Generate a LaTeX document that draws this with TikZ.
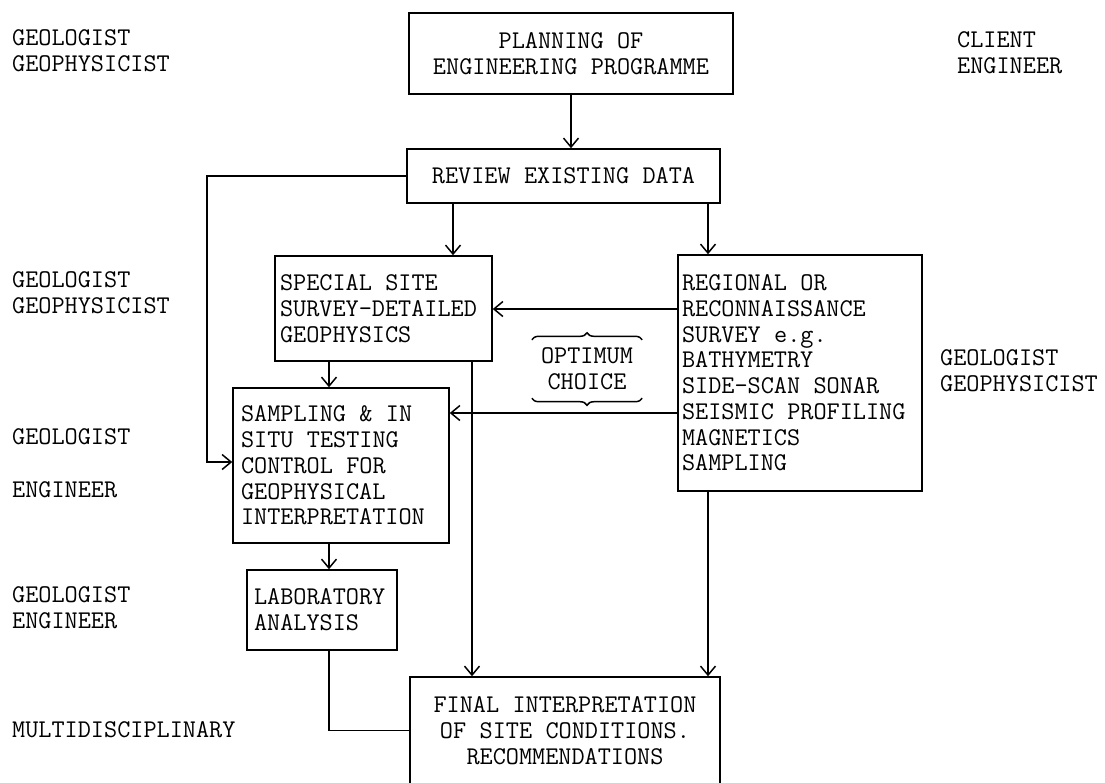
\documentclass[tikz,border=0pt]{standalone}
\usetikzlibrary{arrows.meta,decorations.pathreplacing}
\newcommand\twfont{\ttfamily\fontsize{25.5}{25.7}\selectfont\spaceskip=0.525em\relax\xspaceskip=0.525em\relax}
\begin{document}
\begin{tikzpicture}[x=1pt,y=-1pt,
  every node/.style={font={\twfont}},
  box/.style={draw, line width=1.5pt, inner sep=0pt},
  lbox/.style={box, align=flush left, text width=#1},
  cbox/.style={box, align=center},
  lbl/.style={anchor=base west, align=left, inner sep=0pt},
  arr/.style={line width=1.5pt, -{Straight Barb[length=9pt,width=15pt,line width=1.5pt]}},
  ln/.style={line width=1.5pt},
  brc/.style={line width=1.5pt, decorate, decoration={brace, amplitude=7pt}},
  brcm/.style={line width=1.5pt, decorate, decoration={brace, mirror, amplitude=7pt}}
]
\clip (0,0) rectangle (1105,782);
\fill[white] (0,0) rectangle (1105,782);

% boxes
\node[cbox, minimum width=324, minimum height=81] (plan) at (571,53.5) {PLANNING OF\\ENGINEERING PROGRAMME};
\node[cbox, minimum width=313, minimum height=54] (review) at (563.5,176) {REVIEW EXISTING DATA};
\node[lbox=207, inner xsep=5, minimum height=105] (special) at (383.5,308.5) {SPECIAL SITE\\SURVEY-DETAILED\\GEOPHYSICS};
\node[lbox=236, inner xsep=4, minimum height=236] (regional) at (800,373) {REGIONAL OR\\RECONNAISSANCE\\SURVEY e.g.\\BATHYMETRY\\SIDE-SCAN SONAR\\SEISMIC PROFILING\\MAGNETICS\\SAMPLING};
\node[lbox=200, inner xsep=8, minimum height=155] (sampling) at (341,465.5) {SAMPLING \& IN\\SITU TESTING\\CONTROL FOR\\GEOPHYSICAL\\INTERPRETATION};
\node[lbox=136, inner xsep=7, minimum height=80] (lab) at (322,610) {LABORATORY\\ANALYSIS};
\node[cbox, minimum width=310, minimum height=107] (final) at (565,730.5) {FINAL INTERPRETATION\\OF SITE CONDITIONS.\\RECOMMENDATIONS};
\node[align=center, inner sep=0pt, minimum width=110, minimum height=58] (opt) at (587,369) {OPTIMUM\\CHOICE};

% side labels
\node[lbl] (l1) at (12,71) {GEOLOGIST\\GEOPHYSICIST};
\node[lbl] (l2) at (12,313) {GEOLOGIST\\GEOPHYSICIST};
\node[lbl] (l3) at (12,444.5) {GEOLOGIST};
\node[lbl] (l4) at (12,497) {ENGINEER};
\node[lbl] (l5) at (12,628) {GEOLOGIST\\ENGINEER};
\node[lbl] (l6) at (12,737) {MULTIDISCIPLINARY};
\node[lbl] (r1) at (957,73) {CLIENT\\ENGINEER};
\node[lbl] (r2) at (940,391) {GEOLOGIST\\GEOPHYSICIST};

% helper coordinates
\coordinate (xa) at (453,0);
\coordinate (xb) at (708,0);
\coordinate (xc) at (329,0);
\coordinate (xd) at (472,0);
\coordinate (fb) at (207,462);
\coordinate (ya) at (0,309);
\coordinate (yb) at (0,413);

% connectors
\draw[arr] (plan.south) -- (plan.south |- review.north);
\draw[arr] (review.south -| xa) -- (special.north -| xa);
\draw[arr] (review.south -| xb) -- (regional.north -| xb);
\draw[arr] (review.west) -| (fb) -- (fb -| sampling.west);
\draw[arr] (regional.west |- ya) -- (special.east |- ya);
\draw[arr] (regional.west |- yb) -- (sampling.east |- yb);
\draw[arr] (special.south -| xc) -- (sampling.north -| xc);
\draw[arr] (sampling.south -| xc) -- (lab.north -| xc);
\draw[ln] (lab.south -| xc) |- (final.west);
\draw[arr] (special.south -| xd) -- (final.north -| xd);
\draw[arr] (regional.south -| xb) -- (final.north -| xb);

% braces
\draw[brc] (opt.north west) -- (opt.north east);
\draw[brcm] (opt.south west) -- (opt.south east);
\end{tikzpicture}
\end{document}
